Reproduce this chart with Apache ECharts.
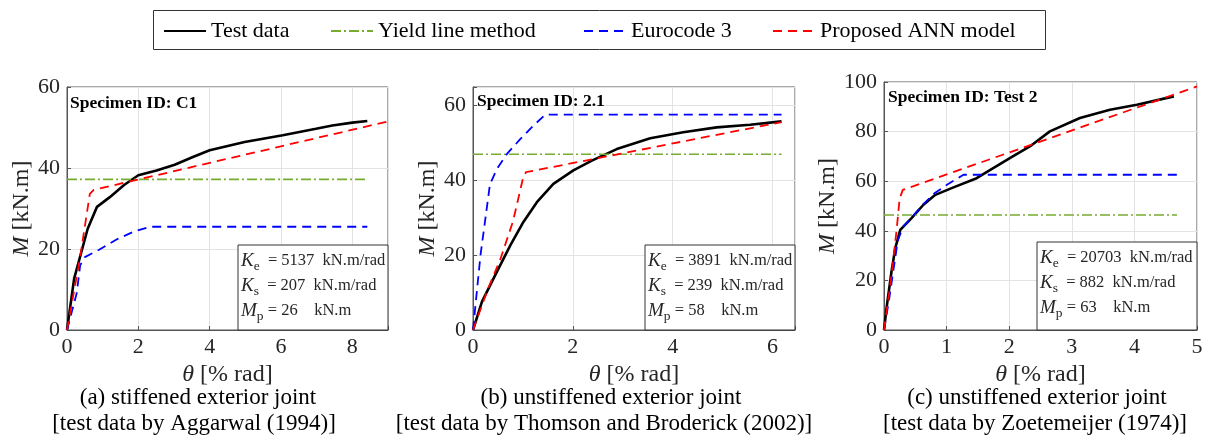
<!DOCTYPE html>
<html>
<head>
<meta charset="utf-8">
<script src="https://cdn.jsdelivr.net/npm/echarts@6/dist/echarts.min.js"></script>
<style>
html,body{margin:0;padding:0;background:#fff;}
#chart{width:1209px;height:446px;}
</style>
</head>
<body>
<div id="chart"></div>
<script>
// ---------- DATA ----------
const legendNames = ['Test data', 'Yield line method', 'Eurocode 3', 'Proposed ANN model'];

// Panel (a) Specimen C1
const testA = [[0,0],[0.2,12.7],[0.58,25],[0.84,30.4],[1.2,32.8],[1.6,35.8],[2.0,38.2],[2.51,39.4],[3.02,40.8],[3.53,42.7],[4.0,44.4],[4.98,46.4],[6.05,48.1],[6.98,49.7],[7.44,50.5],[8.0,51.2],[8.42,51.6]];
const yieldA = [[0,37.2],[8.42,37.2]];
const ec3A = [[0,0],[0.27,9],[0.37,16],[0.5,18],[0.9,19.8],[1.4,22.4],[1.9,24.4],[2.35,25.5],[8.42,25.5]];
const annA = [[0,0],[0.36,17.5],[0.64,33.6],[0.75,34.6],[9,51.5]];

// Panel (b) Specimen 2.1
const testB = [[0,0],[0.18,7.6],[0.48,15.6],[0.75,22.7],[1.01,28.9],[1.28,34.2],[1.61,39.1],[2.01,42.7],[2.38,45.3],[2.88,48.4],[3.55,51.3],[4.21,52.9],[4.88,54.2],[5.55,54.9],[6.18,55.8]];
const yieldB = [[0,47],[6.18,47]];
const ec3B = [[0,0],[0.15,20],[0.34,39],[0.48,43.1],[0.68,47.1],[0.95,51.1],[1.21,54.7],[1.45,57.6],[6.18,57.6]];
const annB = [[0,0],[0.3,11],[0.55,19],[0.8,29],[1.0,40.5],[1.06,42.2],[6.18,55.6]];

// Panel (c) Specimen Test 2
const testC = [[0,0],[0.04,8.7],[0.12,23.6],[0.18,33],[0.26,40.4],[0.44,45.1],[0.63,50.5],[0.82,54.5],[1.11,57.5],[1.48,61.2],[2.01,69.3],[2.33,74],[2.65,80.1],[3.13,85.5],[3.61,88.8],[4.04,90.8],[4.63,94.2]];
const yieldC = [[0,46.4],[4.68,46.4]];
const ec3C = [[0,0],[0.08,12],[0.15,24],[0.22,36],[0.3,41.5],[0.45,45.5],[0.6,50],[0.8,55],[1.0,58.5],[1.27,62.6],[4.68,62.6]];
const annC = [[0,0],[0.1,18],[0.2,40],[0.25,53],[0.3,56.5],[5,98.2]];

// Axis ranges and tick steps
const xMax = [9, 6.45, 5];
const xStep = [2, 2, 1];
const yMax = [60, 65, 100];
const yStep = [20, 20, 20];

// Texts
const specimenIds = ['Specimen ID: C1', 'Specimen ID: 2.1', 'Specimen ID: Test 2'];
const keVals = ['5137', '3891', '20703'];
const ksVals = ['207', '239', '882'];
const mpVals = ['26', '58', '63'];
const captionLine1 = ['(a) stiffened exterior joint', '(b) unstiffened exterior joint', '(c) unstiffened exterior joint'];
const captionLine2 = ['[test data by Aggarwal (1994)]', '[test data by Thomson and Broderick (2002)]', '[test data by Zoetemeijer (1974)]'];

// ---------- LAYOUT ----------
const SERIF = '"Liberation Serif", "Times New Roman", serif';
const grids = [
  {left: 67, top: 87, width: 321, height: 243},
  {left: 473, top: 87, width: 322, height: 243},
  {left: 884, top: 82, width: 313, height: 248}
];
const yNameGap = [32, 32, 44];
const boxes = [
  {x: 238, y: 245, w: 150},
  {x: 645, y: 245, w: 150},
  {x: 1037, y: 242, w: 160}
];
const captionX1 = [198, 611, 1037];
const captionX2 = [194, 604, 1035];
const specimenPos = [[70, 103], [477, 101], [888, 97]];

const panels = [
  [testA, yieldA, ec3A, annA],
  [testB, yieldB, ec3B, annB],
  [testC, yieldC, ec3C, annC]
];

const lineStyles = [
  {color: '#000000', width: 2.6, type: 'solid'},
  {color: '#77AC30', width: 1.6, type: [10, 3, 2, 3]},
  {color: '#0000FF', width: 1.8, type: [9, 6]},
  {color: '#FF0000', width: 1.8, type: [9, 6]}
];

function multipleFormatter(step) {
  return function (v) {
    const r = v / step;
    return Math.abs(r - Math.round(r)) < 1e-6 ? String(Math.round(v * 1000) / 1000) : '';
  };
}

const xAxes = [], yAxes = [], series = [], graphics = [];
for (let p = 0; p < 3; p++) {
  xAxes.push({
    type: 'value', gridIndex: p, min: 0, max: xMax[p], interval: xStep[p],
    name: '{i|θ} [% rad]', nameLocation: 'middle', nameGap: 31,
    nameTextStyle: {fontFamily: SERIF, fontSize: 24, color: '#262626',
      rich: {i: {fontFamily: SERIF, fontSize: 24, fontStyle: 'italic', color: '#262626'}}},
    axisLine: {show: true, lineStyle: {color: '#555', width: 1}},
    axisTick: {show: true, inside: true, length: 4, lineStyle: {color: '#555'}},
    axisLabel: {fontFamily: SERIF, fontSize: 22, color: '#262626', margin: 6, formatter: multipleFormatter(xStep[p])},
    splitLine: {show: true, lineStyle: {color: '#e3e3e3', width: 1}}
  });
  yAxes.push({
    type: 'value', gridIndex: p, min: 0, max: yMax[p], interval: yStep[p],
    name: '{i|M} [kN.m]', nameLocation: 'middle', nameGap: yNameGap[p],
    nameTextStyle: {fontFamily: SERIF, fontSize: 24, color: '#262626',
      rich: {i: {fontFamily: SERIF, fontSize: 24, fontStyle: 'italic', color: '#262626'}}},
    axisLine: {show: true, lineStyle: {color: '#555', width: 1}},
    axisTick: {show: true, inside: true, length: 4, lineStyle: {color: '#555'}},
    axisLabel: {fontFamily: SERIF, fontSize: 22, color: '#262626', margin: 7, formatter: multipleFormatter(yStep[p])},
    splitLine: {show: true, lineStyle: {color: '#e3e3e3', width: 1}}
  });
  for (let k = 0; k < 4; k++) {
    series.push({
      type: 'line', name: legendNames[k], xAxisIndex: p, yAxisIndex: p,
      data: panels[p][k], showSymbol: false, symbol: 'none', silent: true,
      lineStyle: lineStyles[k], itemStyle: {color: lineStyles[k].color},
      z: 2 + k, clip: true, animation: false
    });
  }
  // Specimen label
  graphics.push({
    type: 'text', x: specimenPos[p][0], y: specimenPos[p][1], z: 20,
    style: {text: specimenIds[p], font: 'bold 17.5px ' + SERIF, fill: '#000', verticalAlign: 'middle', align: 'left'}
  });
  // Annotation box
  const b = boxes[p];
  graphics.push({
    type: 'rect', z: 20,
    shape: {x: b.x, y: b.y, width: b.w, height: 330 - b.y},
    style: {fill: '#fff', stroke: '#333', lineWidth: 1}
  });
  const richStyles = {
    i: {fontFamily: SERIF, fontSize: 19, fontStyle: 'italic', fill: '#262626', lineHeight: 25},
    s: {fontFamily: SERIF, fontSize: 13.5, fill: '#262626', padding: [12, 0, 0, 0], lineHeight: 25},
    t: {fontFamily: SERIF, fontSize: 16.5, fill: '#262626', lineHeight: 25}
  };
  const lines = [
    '{i|K}{s|e}{t|  = ' + keVals[p] + '  kN.m/rad}',
    '{i|K}{s|s}{t|  = ' + ksVals[p] + '  kN.m/rad}',
    '{i|M}{s|p}{t| = ' + mpVals[p] + '    kN.m}'
  ];
  graphics.push({
    type: 'text', x: b.x + 3, y: b.y + 3, z: 21,
    style: {text: lines.join('\n'), rich: richStyles, align: 'left', verticalAlign: 'top',
      font: '16.5px ' + SERIF, fill: '#262626'}
  });
  // Captions
  graphics.push({
    type: 'text', x: captionX1[p], y: 398, z: 20,
    style: {text: captionLine1[p], font: '23px ' + SERIF, fill: '#000', align: 'center', verticalAlign: 'middle'}
  });
  graphics.push({
    type: 'text', x: captionX2[p], y: 424, z: 20,
    style: {text: captionLine2[p], font: '23px ' + SERIF, fill: '#000', align: 'center', verticalAlign: 'middle'}
  });
}

// Legend border
graphics.push({
  type: 'rect', z: 0,
  shape: {x: 153.5, y: 10.5, width: 892, height: 39},
  style: {fill: '#fff', stroke: '#333', lineWidth: 1}
});

const legendLeft = [163, 330, 583, 772];
const legends = legendNames.map((n, i) => ({
  data: [n], left: legendLeft[i], top: 20, padding: 0,
  itemWidth: 42, itemHeight: 14, itemGap: 5,
  itemStyle: {color: 'rgba(0,0,0,0)', borderColor: 'rgba(0,0,0,0)', borderWidth: 0},
  textStyle: {fontFamily: SERIF, fontSize: 22, color: '#000'},
  selectedMode: false, z: 10
}));

const chart = echarts.init(document.getElementById('chart'), null, {renderer: 'canvas'});
chart.setOption({
  animation: false,
  backgroundColor: '#fff',
  grid: grids.map(g => Object.assign({show: true, borderColor: '#555', borderWidth: 1, backgroundColor: 'transparent'}, g)),
  xAxis: xAxes,
  yAxis: yAxes,
  legend: legends,
  series: series,
  graphic: graphics
});
</script>
</body>
</html>
